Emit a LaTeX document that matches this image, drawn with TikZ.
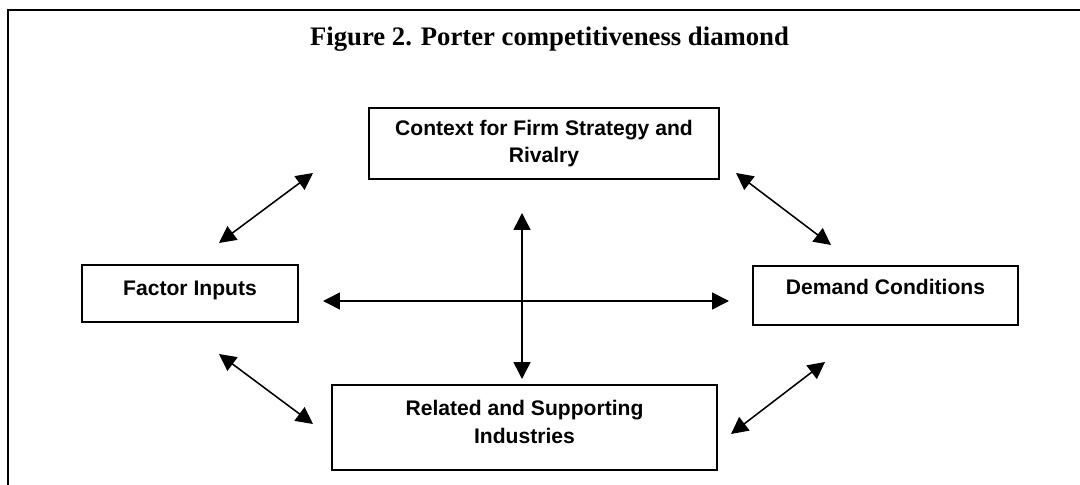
\documentclass[tikz,border=0pt]{standalone}
\usepackage{fontspec}
\setmainfont{Liberation Serif}
\newfontfamily\boxfont{Liberation Sans}
\usetikzlibrary{arrows.meta}

\begin{document}
\begin{tikzpicture}[x=0.025cm,y=-0.025cm,
  box/.style={draw, line width=1.4pt, align=center, inner sep=0pt,
    font=\boxfont\bfseries\fontsize{15}{19.5}\selectfont},
  link/.style={{Triangle[length=12pt,width=12pt]}-{Triangle[length=12pt,width=12pt]},
    line width=1.1pt}]
\useasboundingbox (0,0) rectangle (1080,485);
\draw[line width=1.4pt] (8,10) rectangle (1120,540);
\node[anchor=base, font=\bfseries\fontsize{19}{22}\selectfont] (title) at (549.5,46)
{Figure 2. Porter competitiveness diamond};
\node[box, minimum width=8.75cm, minimum height=1.775cm] (rivalry) at (544,143.5)
{Context for Firm Strategy and\\Rivalry};
\node[box, minimum width=5.4cm, minimum height=1.425cm, text depth=7pt] (factor) at (190,293.5)
{Factor Inputs};
\node[box, minimum width=6.625cm, minimum height=1.475cm, text depth=12pt] (demand) at (885.5,295.5)
{Demand Conditions};
\node[box, minimum width=9.625cm, minimum height=2.125cm, text depth=8pt] (related) at (524.5,427.5)
{Related and Supporting\\Industries};
% free ends of the arrows
\coordinate (fi-n) at (219,243);
\coordinate (ri-w) at (313,173);
\coordinate (ri-e) at (736,173);
\coordinate (dc-n) at (831,245);
\coordinate (fi-s) at (219,354);
\coordinate (rs-w) at (313,424);
\coordinate (rs-e) at (731,434);
\coordinate (dc-s) at (825,362);
\coordinate (mid-w) at (323,301);
\coordinate (mid-e) at (729,301);
\coordinate (mid-n) at (522,213);
\coordinate (mid-s) at (522,379);
\draw[link] (fi-n) -- (ri-w);
\draw[link] (ri-e) -- (dc-n);
\draw[link] (fi-s) -- (rs-w);
\draw[link] (rs-e) -- (dc-s);
\draw[link] (mid-w) -- (mid-e);
\draw[link] (mid-n) -- (mid-s);
\end{tikzpicture}
\end{document}
